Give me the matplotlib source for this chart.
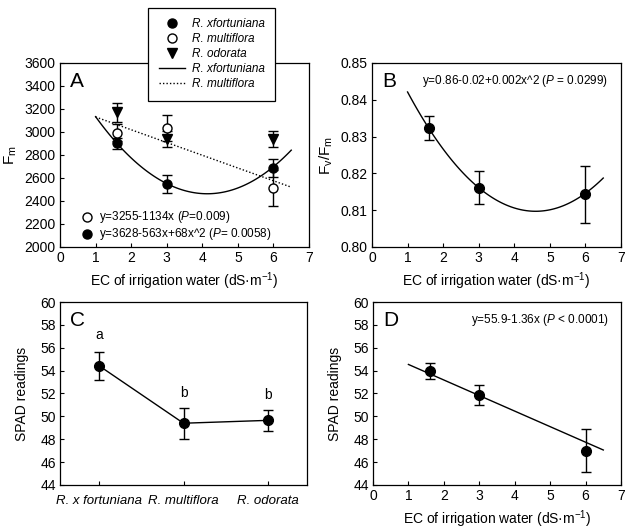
import numpy as np
import matplotlib
matplotlib.use("Agg")
import matplotlib.pyplot as plt
from matplotlib.lines import Line2D

plt.rcParams['font.family'] = ['Liberation Sans', 'DejaVu Sans']
plt.rcParams['mathtext.fontset'] = 'custom'
plt.rcParams['mathtext.rm'] = 'Liberation Sans'
plt.rcParams['mathtext.it'] = 'Liberation Sans:italic'
plt.rcParams['mathtext.default'] = 'regular'

# EC levels (dS/m)
ec = [1.6, 3.0, 6.0]

# panel A - Fm
fm_fort = [2900, 2550, 2690]
fm_fort_err = [50, 80, 78]
fm_mult = [2995, 3035, 2510]
fm_mult_err = [70, 110, 155]
fm_odor = [3170, 2935, 2935]
fm_odor_err = [80, 70, 70]
fm_fort_fit = [68, -563, 3628]        # quadratic fit coefficients
fm_mult_fit_x = [1.0, 6.5]
fm_mult_fit_y = [3130, 2520]

# panel B - Fv/Fm
fvfm = [0.8323, 0.8161, 0.8143]
fvfm_err = [0.0033, 0.0045, 0.0078]
fvfm_fit = [0.0025, -0.023, 0.8626]

# panel C - SPAD by species
species = ['R. x fortuniana', 'R. multiflora', 'R. odorata']
spad_sp = [54.4, 49.4, 49.65]
spad_sp_err = [1.26, 1.35, 0.95]
spad_letters = ['a', 'b', 'b']
letter_y = [57.15, 52.05, 51.85]

# panel D - SPAD vs EC
spad_ec = [53.95, 51.9, 47.0]
spad_ec_err = [0.7, 0.87, 1.9]
spad_fit = [-1.36, 55.9]

fit_x = np.linspace(1, 6.5, 100)
xlab = 'EC of irrigation water (dS·m$^{-1}$)'
ebkw = dict(ecolor='black', elinewidth=1, capsize=3.5, capthick=1, linestyle='none')

fig = plt.figure(figsize=(6.29, 5.29), dpi=100)
axA = fig.add_axes([0.0954, 0.5331, 0.3959, 0.348])
axB = fig.add_axes([0.5914, 0.5331, 0.3959, 0.348])
axC = fig.add_axes([0.0954, 0.0832, 0.3927, 0.3459])
axD = fig.add_axes([0.5930, 0.0832, 0.3943, 0.3459])

for ax in [axA, axB, axC, axD]:
    ax.tick_params(direction='in', length=3, labelsize=10, top=False, right=False, pad=3)
    for s in ax.spines.values():
        s.set_linewidth(0.9)

# A
axA.plot(fit_x, np.polyval(fm_fort_fit, fit_x), color='black', lw=1)
axA.plot(fm_mult_fit_x, fm_mult_fit_y, color='black', lw=1, linestyle=(0, (1, 1.5)))
axA.errorbar(ec, fm_odor, yerr=fm_odor_err, marker='v', ms=7, mfc='black', mec='black', **ebkw)
axA.errorbar(ec, fm_mult, yerr=fm_mult_err, marker='o', ms=6.5, mfc='white', mec='black', **ebkw)
axA.errorbar(ec, fm_fort, yerr=fm_fort_err, marker='o', ms=6.5, mfc='black', mec='black', **ebkw)
axA.set_xlim(0, 7)
axA.set_ylim(2000, 3600)
axA.set_yticks(range(2000, 3601, 200))
axA.set_xticks(range(0, 8))
axA.set_xlabel(xlab, fontsize=10)
axA.set_ylabel('F$_m$', fontsize=11, labelpad=4)
axA.text(0.04, 0.90, 'A', transform=axA.transAxes, fontsize=15, va='center')
axA.plot([0.11], [0.165], 'o', ms=6.5, mfc='white', mec='black', transform=axA.transAxes)
axA.plot([0.11], [0.07], 'o', ms=6.5, mfc='black', mec='black', transform=axA.transAxes)
axA.text(0.155, 0.165, 'y=3255-1134x ($\\it{P}$=0.009)', transform=axA.transAxes, fontsize=8.5, va='center')
axA.text(0.155, 0.07, 'y=3628-563x+68x^2 ($\\it{P}$= 0.0058)', transform=axA.transAxes, fontsize=8.5, va='center')

handles = [
    Line2D([], [], marker='o', ls='none', ms=6.5, mfc='black', mec='black'),
    Line2D([], [], marker='o', ls='none', ms=6.5, mfc='white', mec='black'),
    Line2D([], [], marker='v', ls='none', ms=7, mfc='black', mec='black'),
    Line2D([], [], color='black', lw=1),
    Line2D([], [], color='black', lw=1, ls=(0, (1, 1.5))),
]
labels = ['R. xfortuniana', 'R. multiflora', 'R. odorata', 'R. xfortuniana', 'R. multiflora']
leg = axA.legend(handles, labels, loc='upper left', bbox_to_anchor=(0.353, 1.30),
                 prop={'style': 'italic', 'size': 8.5}, frameon=True, fancybox=False,
                 edgecolor='black', framealpha=1, handlelength=2.2, labelspacing=0.25,
                 borderpad=0.9, handletextpad=0.6, borderaxespad=0)
leg.get_frame().set_linewidth(0.9)
leg.set_zorder(10)
leg.set_clip_on(False)

# B
axB.plot(fit_x, np.polyval(fvfm_fit, fit_x), color='black', lw=1)
axB.errorbar(ec, fvfm, yerr=fvfm_err, marker='o', ms=7, mfc='black', mec='black', **ebkw)
axB.set_xlim(0, 7)
axB.set_ylim(0.80, 0.85)
axB.set_yticks([0.80, 0.81, 0.82, 0.83, 0.84, 0.85])
axB.set_yticklabels(['0.80', '0.81', '0.82', '0.83', '0.84', '0.85'])
axB.set_xticks(range(0, 8))
axB.set_xlabel(xlab, fontsize=10)
axB.set_ylabel('F$_v$/F$_m$', fontsize=11, labelpad=4)
axB.text(0.04, 0.90, 'B', transform=axB.transAxes, fontsize=15, va='center')
axB.text(0.95, 0.90, 'y=0.86-0.02+0.002x^2 ($\\it{P}$ = 0.0299)', transform=axB.transAxes,
         fontsize=8.5, va='center', ha='right')

# C
xc = [1, 2, 3]
axC.plot(xc, spad_sp, color='black', lw=1)
axC.errorbar(xc, spad_sp, yerr=spad_sp_err, marker='o', ms=7, mfc='black', mec='black', **ebkw)
for x, y, t in zip(xc, letter_y, spad_letters):
    axC.text(x, y, t, ha='center', va='center', fontsize=10)
axC.set_xlim(0.53, 3.47)
axC.set_ylim(44, 60)
axC.set_yticks(range(44, 61, 2))
axC.set_xticks(xc)
axC.set_xticklabels(species, fontstyle='italic', fontsize=9.5)
axC.tick_params(axis='x', pad=7)
axC.set_ylabel('SPAD readings', fontsize=10, labelpad=8)
axC.text(0.04, 0.90, 'C', transform=axC.transAxes, fontsize=15, va='center')

# D
axD.plot(fit_x, np.polyval(spad_fit, fit_x), color='black', lw=1)
axD.errorbar(ec, spad_ec, yerr=spad_ec_err, marker='o', ms=7, mfc='black', mec='black', **ebkw)
axD.set_xlim(0, 7)
axD.set_ylim(44, 60)
axD.set_yticks(range(44, 61, 2))
axD.set_xticks(range(0, 8))
axD.set_xlabel(xlab, fontsize=10)
axD.set_ylabel('SPAD readings', fontsize=10, labelpad=8)
axD.text(0.04, 0.90, 'D', transform=axD.transAxes, fontsize=15, va='center')
axD.text(0.95, 0.90, 'y=55.9-1.36x ($\\it{P}$ < 0.0001)', transform=axD.transAxes,
         fontsize=8.5, va='center', ha='right')

fig.savefig('out.png', dpi=100)
